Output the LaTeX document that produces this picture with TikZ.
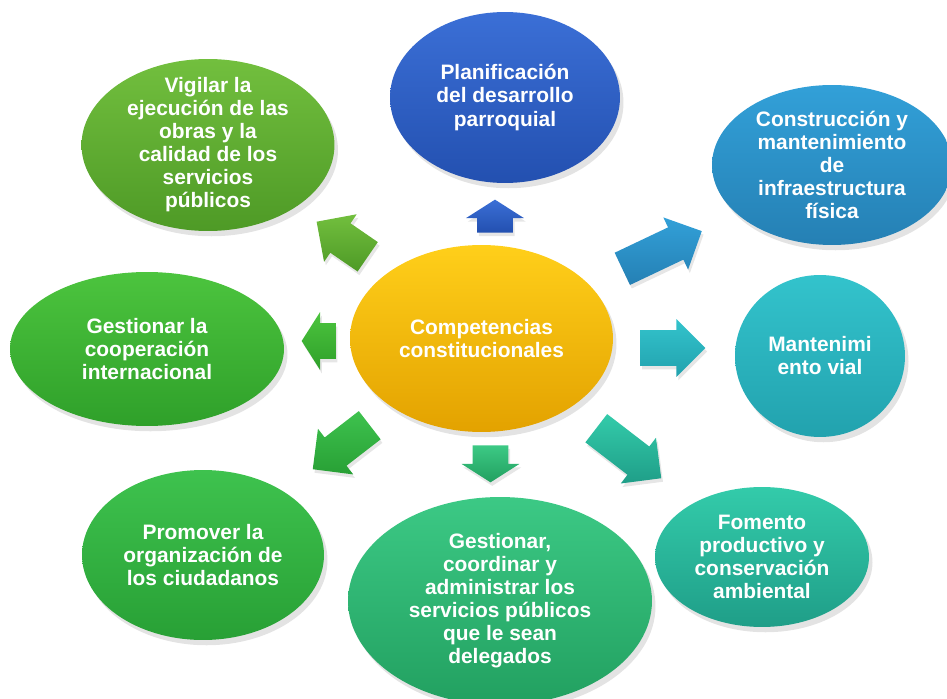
\documentclass[tikz,border=0pt]{standalone}
\usepackage{fontspec}
\setmainfont{Liberation Sans}
\usepackage{tikz}
\usetikzlibrary{arrows,positioning,shapes,shadows}
\definecolor{goldT}{HTML}{FFCF1A}\definecolor{goldB}{HTML}{E3A200}
\definecolor{planT}{HTML}{3B6FD6}\definecolor{planB}{HTML}{2350B0}
\definecolor{infraT}{HTML}{32A0D8}\definecolor{infraB}{HTML}{2580B4}
\definecolor{vialT}{HTML}{33C3CC}\definecolor{vialB}{HTML}{22A2AE}
\definecolor{fomT}{HTML}{33CBAA}\definecolor{fomB}{HTML}{1F9E88}
\definecolor{servT}{HTML}{3CC985}\definecolor{servB}{HTML}{22A060}
\definecolor{orgT}{HTML}{3EC24E}\definecolor{orgB}{HTML}{28A035}
\definecolor{coopT}{HTML}{4CC43E}\definecolor{coopB}{HTML}{2FA02A}
\definecolor{vigT}{HTML}{72BF3E}\definecolor{vigB}{HTML}{4E9A26}
\tikzset{
    %Define style for the ellipses
    comp/.style={
           ellipse,
           inner sep=-0.5cm,
           text=white,
           font=\fontsize{11.9}{13.1}\selectfont\bfseries,
           align=center,
           drop shadow={shadow xshift=2pt,shadow yshift=-3pt,opacity=0.22}},
    % Define style for the block arrows
    pil/.style={
           single arrow,
           anchor=tail,
           inner xsep=0pt,
           inner ysep=0.35cm,
           minimum width=1.14cm,
           single arrow head extend=0.22cm,
           drop shadow={shadow xshift=1pt,shadow yshift=-2pt,opacity=0.2}},
    stub/.style={single arrow tip angle=115},
    % Define colour pairs
    tint/.style 2 args={top color=#1, bottom color=#2}
}
\begin{document}
\begin{tikzpicture}[x=0.02cm,y=-0.02cm]
\useasboundingbox (0,0) rectangle (947,699);
% ellipses
\node[comp, tint={goldT}{goldB}, minimum width=5.26cm, minimum height=3.74cm] (C) at (481.5,338.5) {Competencias\\constitucionales};
\node[comp, tint={planT}{planB}, minimum width=4.6cm, minimum height=3.42cm] (P) at (505,97.5) {Planificación\\del desarrollo\\parroquial};
\node[comp, tint={vigT}{vigB}, minimum width=5.06cm, minimum height=3.44cm] (W) at (208,145) {Vigilar la\\ejecución de las\\obras y la\\calidad de los\\servicios\\públicos};
\node[comp, tint={infraT}{infraB}, minimum width=4.8cm, minimum height=3.2cm] (I) at (832,165) {Construcción y\\mantenimiento\\de\\infraestructura\\física};
\node[comp, tint={vialT}{vialB}, minimum width=3.4cm, minimum height=3.24cm] (V) at (820,356) {Mantenimi\\ento vial};
\node[comp, tint={coopT}{coopB}, minimum width=5.48cm, minimum height=3.08cm] (G) at (147,349) {Gestionar la\\cooperación\\internacional};
\node[comp, tint={orgT}{orgB}, minimum width=4.84cm, minimum height=3.4cm] (O) at (203,555) {Promover la\\organización de\\los ciudadanos};
\node[comp, tint={servT}{servB}, minimum width=6.08cm, minimum height=4.16cm] (S) at (500,601) {Gestionar,\\coordinar y\\administrar los\\servicios públicos\\que le sean\\delegados};
\node[comp, tint={fomT}{fomB}, minimum width=4.28cm, minimum height=2.8cm] (F) at (762,557) {Fomento\\productivo y\\conservación\\ambiental};
% arrows, placed by their tails
\node[pil, stub, tint={planT}{planB}, minimum height=0.66cm, rotate=90] (aP) at (495,233) {};
\node[pil, tint={vigT}{vigB}, minimum height=1.24cm, rotate=145.5] (aW) at (368,257) {};
\node[pil, tint={infraT}{infraB}, minimum height=1.76cm, rotate=25.4] (aI) at (622,269) {};
\node[pil, stub, tint={coopT}{coopB}, minimum height=0.68cm, rotate=180] (aG) at (336,341) {};
\node[pil, tint={vialT}{vialB}, minimum height=1.3cm, rotate=0] (aV) at (640,348) {};
\node[pil, tint={orgT}{orgB}, minimum height=1.44cm, rotate=217.7] (aO) at (370,425) {};
\node[pil, stub, tint={servT}{servB}, minimum height=0.74cm, rotate=270] (aS) at (490.5,445) {};
\node[pil, tint={fomT}{fomB}, minimum height=1.64cm, rotate=-37.6] (aF) at (596,428) {};
\end{tikzpicture}
\end{document}
